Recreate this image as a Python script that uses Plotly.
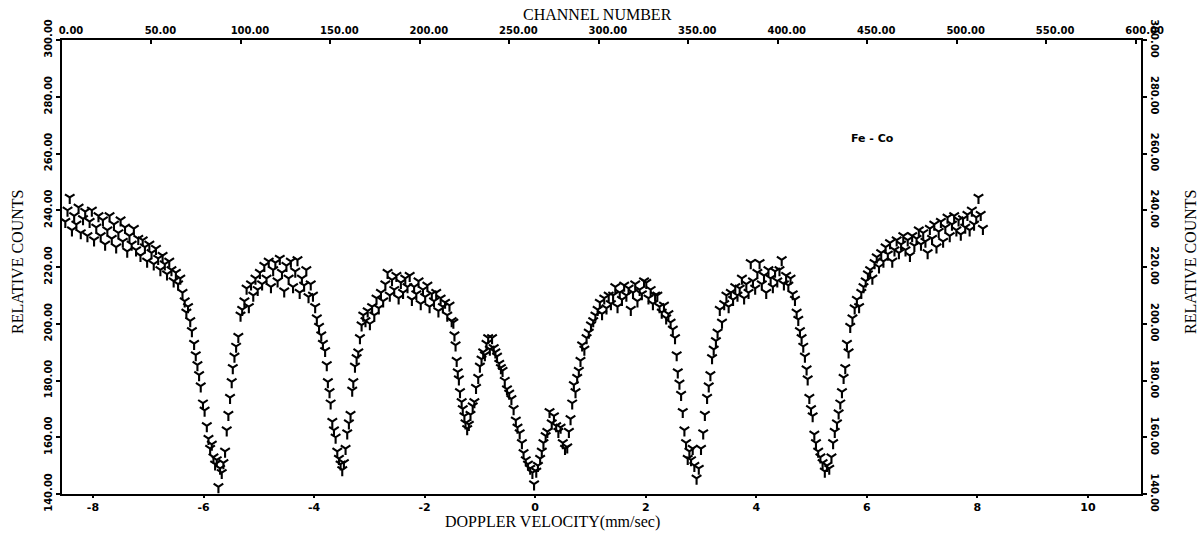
import plotly.graph_objects as go

# ---- data (Doppler velocity mm/s, relative counts) ----
vel_left = [-8.50, -8.46, -8.42, -8.38, -8.34, -8.30, -8.26, -8.22, -8.18, -8.14, -8.10, -8.06, -8.02,
            -7.98, -7.94, -7.90, -7.86, -7.82, -7.78, -7.74, -7.70, -7.66, -7.62, -7.58, -7.54, -7.50,
            -7.46, -7.42, -7.38, -7.34, -7.30, -7.26, -7.22, -7.18, -7.14, -7.10, -7.06, -7.02, -6.98,
            -6.94, -6.90, -6.86, -6.82, -6.78, -6.74, -6.70, -6.66, -6.62, -6.58, -6.54, -6.50]
cnt_left = [236, 240, 244.5, 233, 238, 235, 241, 232, 237, 239.5, 231, 236, 240,
            229.5, 234, 238, 231, 236.5, 228, 233, 238, 230, 235, 227, 232, 236.5,
            229, 234, 225.5, 231, 228, 233.5, 226, 230, 224, 229.5, 227, 222, 228,
            225, 221, 226.5, 223, 219, 224, 221, 217.5, 222, 219, 215, 218]

vel_dip1 = [-6.46, -6.42, -6.38, -6.34, -6.31, -6.28, -6.24, -6.21, -6.17, -6.14, -6.11, -6.08, -6.05,
            -6.01, -5.98, -5.94, -5.91, -5.88, -5.85, -5.82, -5.79, -5.76, -5.73, -5.70, -5.67, -5.64,
            -5.61, -5.58, -5.55, -5.52, -5.49, -5.47, -5.44, -5.41, -5.37, -5.33, -5.30, -5.26, -5.22,
            -5.18, -5.14, -5.10, -5.06]
cnt_dip1 = [214, 216, 211, 208, 204, 206, 201, 197.5, 193, 189, 185.5, 182, 178,
            172, 169.5, 164, 159.5, 156, 157.5, 153, 150.5, 152, 142.5, 149, 147.5, 151,
            155, 162.5, 168, 174, 179.5, 184.5, 188.5, 192, 195.5, 203, 205, 208, 212.5,
            206, 214, 210, 216]

vel_peak1 = [-5.02, -4.98, -4.94, -4.90, -4.86, -4.82, -4.78, -4.74, -4.70, -4.66, -4.62, -4.58, -4.54,
             -4.50, -4.46, -4.42, -4.38, -4.34, -4.30, -4.26, -4.22, -4.18, -4.14, -4.10, -4.06, -4.02]
cnt_peak1 = [212, 218, 214, 220.5, 216, 222, 213, 219, 221.5, 215, 223, 218, 211.5,
             220.5, 216, 222, 213, 218.5, 222.5, 211, 216, 213.5, 219, 209.5, 214, 210]

vel_dip2 = [-3.98, -3.95, -3.91, -3.87, -3.84, -3.80, -3.77, -3.75, -3.72, -3.70, -3.67, -3.64, -3.61,
            -3.58, -3.55, -3.52, -3.49, -3.46, -3.43, -3.40, -3.37, -3.34, -3.31, -3.29, -3.26, -3.23,
            -3.20, -3.17, -3.14, -3.11, -3.07, -3.03, -2.99, -2.95, -2.91, -2.87]
cnt_dip2 = [206, 202, 199, 196, 193, 190.5, 185.5, 179.5, 176, 172, 165.5, 162.5, 160,
            155, 152.5, 150.5, 148.5, 151, 156, 161.5, 165, 168, 176.5, 179.5, 185, 188,
            190, 195, 199.5, 203, 201, 204.5, 200, 206, 203, 209]

vel_peak2 = [-2.83, -2.79, -2.75, -2.71, -2.67, -2.63, -2.59, -2.55, -2.51, -2.47, -2.43, -2.39, -2.35,
             -2.31, -2.27, -2.23, -2.19, -2.15, -2.11, -2.07, -2.03, -1.99, -1.95, -1.91, -1.87, -1.83,
             -1.79, -1.75, -1.71, -1.67, -1.63, -1.59, -1.55, -1.51, -1.48]
cnt_peak2 = [205.5, 211, 208, 214, 218, 210, 215.5, 212, 217, 209, 214.5, 211, 216,
             213, 217, 208.5, 213, 210.5, 215, 207, 212, 209.5, 213.5, 206, 210.5, 208,
             211, 204.5, 209, 206, 207.5, 203, 206.5, 201, 200.5]

vel_center = [-1.46, -1.44, -1.42, -1.40, -1.38, -1.36, -1.33, -1.31, -1.28, -1.26, -1.23, -1.20, -1.17,
              -1.13, -1.10, -1.07, -1.03, -1.00, -0.97, -0.94, -0.91, -0.88, -0.85, -0.82, -0.78, -0.75,
              -0.72, -0.69, -0.65, -0.62, -0.59, -0.55, -0.51, -0.47, -0.43, -0.39, -0.35, -0.32, -0.28,
              -0.24, -0.21, -0.17, -0.13, -0.09, -0.05, -0.02, 0.02, 0.05, 0.09, 0.12, 0.15, 0.19,
              0.22, 0.26, 0.30, 0.34, 0.38, 0.42, 0.46, 0.50, 0.54, 0.58, 0.61, 0.64, 0.67,
              0.70, 0.73, 0.76, 0.79, 0.82, 0.85, 0.89, 0.93, 0.97, 1.01, 1.05, 1.09, 1.13, 1.17]
cnt_center = [196, 192.5, 187, 183, 180.5, 176, 172.5, 170, 167.5, 165, 163, 164.5, 168,
              171, 172.5, 177.5, 181, 185, 187.5, 190, 189, 193, 195, 191, 195, 191.5,
              190, 188.5, 186, 184.5, 183.5, 180, 177, 175.5, 173.5, 170, 166, 163.5, 161.5,
              158, 154.5, 152, 150.5, 149, 147.5, 143.5, 148, 150, 152.5, 155, 158, 160.5,
              162, 169, 165, 167.5, 164, 162, 163.5, 158, 156, 156.5, 162, 166.5, 172,
              178.5, 176, 181, 183.5, 187, 192.5, 191, 195, 197, 199.5, 201, 203, 205, 207.5]

vel_peak3 = [1.21, 1.25, 1.29, 1.33, 1.37, 1.41, 1.45, 1.49, 1.53, 1.57, 1.61, 1.65, 1.69,
             1.73, 1.77, 1.81, 1.85, 1.89, 1.93, 1.97, 2.01, 2.05, 2.09, 2.13, 2.17, 2.21,
             2.25, 2.29, 2.33, 2.37, 2.41, 2.45]
cnt_peak3 = [203.5, 209, 205.5, 210, 207, 210, 213, 206, 211, 208.5, 213.5, 210, 212.5,
             205, 211, 214, 208, 212, 210.5, 215, 214.5, 209, 212, 207, 210, 210,
             206, 204, 206.5, 202, 203.5, 200.5]

vel_dip4 = [2.49, 2.53, 2.56, 2.58, 2.61, 2.64, 2.67, 2.70, 2.73, 2.76, 2.79, 2.82, 2.85,
            2.88, 2.92, 2.96, 3.00, 3.04, 3.07, 3.11, 3.14, 3.17, 3.20, 3.23, 3.27, 3.30,
            3.34, 3.38, 3.42, 3.46, 3.50]
cnt_dip4 = [198, 195, 189, 183, 179, 175, 169, 162.5, 158, 152.5, 155, 152, 156,
            150, 145.5, 149, 156, 161.5, 168, 174, 178, 182, 188, 191, 194, 197,
            205, 200.5, 207, 210, 206]

vel_peak4 = [3.54, 3.58, 3.62, 3.66, 3.70, 3.74, 3.78, 3.82, 3.86, 3.90, 3.94, 3.98, 4.02,
             4.06, 4.10, 4.14, 4.18, 4.22, 4.26, 4.30, 4.34, 4.38, 4.42, 4.46, 4.50, 4.54,
             4.58, 4.62, 4.66, 4.70]
cnt_peak4 = [211, 208.5, 213, 210, 212.5, 216, 209, 214, 211, 221.5, 215, 212.5, 218,
             221.5, 214, 217, 211, 219, 216, 213, 218.5, 215, 219, 222.5, 214, 217,
             213.5, 216, 210.5, 208.5]

vel_dip5 = [4.73, 4.76, 4.79, 4.82, 4.85, 4.88, 4.91, 4.93, 4.96, 4.99, 5.02, 5.05, 5.08,
            5.12, 5.16, 5.20, 5.24, 5.28, 5.32, 5.36, 5.39, 5.42, 5.46, 5.49, 5.52, 5.55,
            5.58, 5.61, 5.64, 5.67, 5.70, 5.74, 5.78, 5.82, 5.86, 5.90, 5.94, 5.98, 6.02, 6.06]
cnt_dip5 = [204, 201.5, 197.5, 195, 192, 188.5, 184, 180.5, 174, 170, 167.5, 161, 158,
            155, 153, 151, 148, 150, 149, 153, 158, 162, 165, 168.5, 172, 176,
            181, 184.5, 193, 190, 199, 202, 205.5, 208.5, 206, 211, 213, 215, 217.5, 219]

vel_right = [6.10, 6.14, 6.18, 6.22, 6.26, 6.30, 6.34, 6.38, 6.42, 6.46, 6.50, 6.54, 6.58,
             6.62, 6.66, 6.70, 6.74, 6.78, 6.82, 6.86, 6.90, 6.94, 6.98, 7.02, 7.06, 7.10,
             7.14, 7.18, 7.22, 7.26, 7.30, 7.34, 7.38, 7.42, 7.46, 7.50, 7.54, 7.58, 7.62,
             7.66, 7.70, 7.74, 7.78, 7.82, 7.86, 7.90, 7.94, 7.98, 8.02, 8.06, 8.10]
cnt_right = [216, 221.5, 223.5, 220, 225, 222, 227, 224.5, 228.5, 222, 226, 229.5, 225,
             228, 231, 226, 229.5, 224, 231, 227.5, 230, 233, 228, 232, 229, 225,
             233.5, 230, 235, 227, 232.5, 236, 229, 234, 237.5, 231, 235, 238, 233,
             236.5, 231.5, 237, 234, 238.5, 233, 240, 235, 237.5, 244.5, 238.5, 233.5]

velocity = (vel_left + vel_dip1 + vel_peak1 + vel_dip2 + vel_peak2 + vel_center
            + vel_peak3 + vel_dip4 + vel_peak4 + vel_dip5 + vel_right)
counts = (cnt_left + cnt_dip1 + cnt_peak1 + cnt_dip2 + cnt_peak2 + cnt_center
          + cnt_peak3 + cnt_dip4 + cnt_peak4 + cnt_dip5 + cnt_right)

vel_ticks = [-8, -6, -4, -2, 0, 2, 4, 6, 8, 10]
chan_ticks = [0, 50, 100, 150, 200, 250, 300, 350, 400, 450, 500, 550, 600]
count_ticks = [140, 160, 180, 200, 220, 240, 260, 280, 300]

tickfont = dict(family="DejaVu Sans", size=10, color="black", weight="bold")
serif = dict(family="Liberation Serif", size=16, color="black")

fig = go.Figure()
fig.add_trace(go.Scatter(
    x=velocity, y=counts, mode="markers",
    marker=dict(symbol="y-down", size=8, color="black",
                line=dict(width=2.1, color="black")),
    showlegend=False, hoverinfo="x+y"))
# empty trace so that the channel (top) and right count axes are drawn
fig.add_trace(go.Scatter(x=[None], y=[None], xaxis="x2", yaxis="y2",
                         mode="markers", showlegend=False, hoverinfo="skip"))

W, H = 1200, 535
l, r, t, b = 62, 59, 40, 41
pw, ph = W - l - r, H - t - b


def px_ann(text, px, py, font, angle=0):
    return dict(text=text, x=(px - l) / pw, y=1 - (py - t) / ph, xref="paper", yref="paper",
                xanchor="center", yanchor="middle", showarrow=False, font=font, textangle=angle)


fig.update_layout(
    width=W, height=H,
    paper_bgcolor="white", plot_bgcolor="white",
    margin=dict(l=l, r=r, t=t, b=b),
    xaxis=dict(range=[-8.56, 10.96], tickvals=vel_ticks, ticktext=[str(v) for v in vel_ticks],
               showline=True, linecolor="black", linewidth=2, ticks="outside", ticklen=2,
               tickwidth=1.5, tickcolor="black", showgrid=False, zeroline=False,
               tickfont=dict(family="DejaVu Sans", size=11, color="black", weight="bold"),
               automargin=False),
    xaxis2=dict(range=[0, 603], overlaying="x", side="top", anchor="y", tickvals=chan_ticks,
                ticktext=[f"{c}.00" for c in chan_ticks], ticklabelshift=9,
                showline=True, linecolor="black", linewidth=2, ticks="inside", ticklen=4,
                tickwidth=1.5, tickcolor="black", showgrid=False, zeroline=False,
                tickfont=tickfont, automargin=False),
    yaxis=dict(range=[140, 300], tickvals=count_ticks, ticktext=[f"{c}.00" for c in count_ticks],
               tickangle=-90, showline=True, linecolor="black", linewidth=2, ticks="outside",
               ticklen=4, tickwidth=1.5, tickcolor="black", showgrid=False, zeroline=False,
               tickfont=tickfont, automargin=False),
    yaxis2=dict(range=[140, 300], overlaying="y", side="right", anchor="x", tickvals=count_ticks,
                ticktext=[f"{c}.00" for c in count_ticks], tickangle=90,
                showline=True, linecolor="black", linewidth=2, ticks="outside",
                ticklen=4, tickwidth=1.5, tickcolor="black", showgrid=False, zeroline=False,
                tickfont=tickfont, automargin=False),
    annotations=[
        px_ann("DOPPLER VELOCITY(mm/sec)", 552, 522, serif),
        px_ann("CHANNEL NUMBER", 597, 15, serif),
        px_ann("RELATIVE COUNTS", 17, 262, serif, -90),
        px_ann("RELATIVE COUNTS", 1190, 262, serif, -90),
        px_ann("Fe - Co", 872, 138,
               dict(family="DejaVu Sans", size=11, color="black", weight="bold")),
    ],
)

fig.write_html("out.html", config={"displayModeBar": False},
               post_script="document.body.style.margin='0';")
